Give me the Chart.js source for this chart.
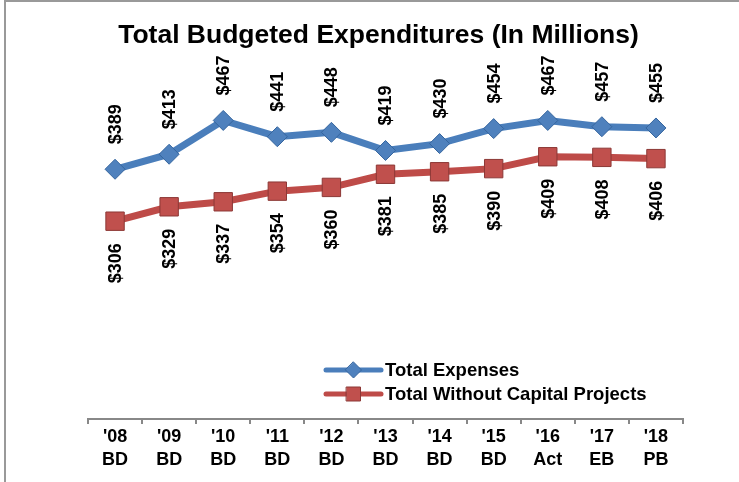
<!DOCTYPE html>
<html>
<head>
<meta charset="utf-8">
<script src="https://cdn.jsdelivr.net/npm/chart.js@4.4.1/dist/chart.umd.min.js"></script>
<style>
  body { margin: 0; background: #fff; }
  #wrap { position: relative; width: 739px; height: 482px; }
  .frameTop { position: absolute; left: 4px; top: 0; width: 735px; height: 2px; background: #999; }
  .frameLeft { position: absolute; left: 4px; top: 0; width: 2px; height: 482px; background: #999; }
</style>
</head>
<body>
<div id="wrap">
  <canvas id="myChart"></canvas>
  <div class="frameTop"></div>
  <div class="frameLeft"></div>
</div>
<script>
// chart values
var years = ["'08", "'09", "'10", "'11", "'12", "'13", "'14", "'15", "'16", "'17", "'18"];
var budgetTypes = ["BD", "BD", "BD", "BD", "BD", "BD", "BD", "BD", "Act", "EB", "PB"];
var totalExpenses = [389, 413, 467, 441, 448, 419, 430, 454, 467, 457, 455];
var totalWithoutCapital = [306, 329, 337, 354, 360, 381, 385, 390, 409, 408, 406];

var FONT = "'Liberation Sans', Arial, sans-serif";

var labels = years.map(function (y, i) { return [y, budgetTypes[i]]; });

// values printed sideways above (blue) and below (red) each point
var valueLabels = {
  id: 'valueLabels',
  afterDatasetsDraw: function (chart) {
    var ctx = chart.ctx;
    ctx.save();
    ctx.font = 'bold 18px ' + FONT;
    ctx.fillStyle = '#000';
    ctx.textBaseline = 'middle';
    chart.data.datasets.forEach(function (ds, di) {
      var meta = chart.getDatasetMeta(di);
      meta.data.forEach(function (pt, i) {
        ctx.save();
        if (di === 0) {
          ctx.translate(pt.x + 1, pt.y - 25);
          ctx.rotate(-Math.PI / 2);
          ctx.textAlign = 'left';
        } else {
          ctx.translate(pt.x + 1, pt.y + 22);
          ctx.rotate(-Math.PI / 2);
          ctx.textAlign = 'right';
        }
        ctx.fillText('$' + ds.data[i], 0, 0);
        ctx.restore();
      });
    });
    ctx.restore();
  }
};

// legend sitting inside the plot, like the original
var innerLegend = {
  id: 'innerLegend',
  afterDraw: function (chart) {
    var ctx = chart.ctx;
    var x0 = 326, x1 = 381, tx = 385;
    var rows = [370, 394];
    ctx.save();
    chart.data.datasets.forEach(function (ds, di) {
      var y = rows[di];
      ctx.strokeStyle = ds.borderColor;
      ctx.lineWidth = 5;
      ctx.lineCap = 'round';
      ctx.beginPath();
      ctx.moveTo(x0, y);
      ctx.lineTo(x1, y);
      ctx.stroke();
      var mx = (x0 + x1) / 2;
      ctx.fillStyle = ds.pointBackgroundColor;
      ctx.strokeStyle = ds.pointBorderColor;
      ctx.lineWidth = 1;
      ctx.beginPath();
      if (ds.pointStyle === 'rectRot') {
        ctx.moveTo(mx, y - 8); ctx.lineTo(mx + 8, y); ctx.lineTo(mx, y + 8); ctx.lineTo(mx - 8, y);
        ctx.closePath();
      } else {
        ctx.rect(mx - 7, y - 7, 14, 14);
      }
      ctx.fill();
      ctx.stroke();
      ctx.fillStyle = '#000';
      ctx.font = 'bold 18.5px ' + FONT;
      ctx.textAlign = 'left';
      ctx.textBaseline = 'middle';
      ctx.fillText(ds.label, tx, y + 1);
    });
    ctx.restore();
  }
};

var ctx = document.getElementById('myChart').getContext('2d');
var myChart = new Chart(ctx, {
  type: 'line',
  data: {
    labels: labels,
    datasets: [{
      label: 'Total Expenses',
      data: totalExpenses,
      borderColor: '#4A7EBB',
      borderWidth: 7,
      pointStyle: 'rectRot',
      pointRadius: 10,
      pointBackgroundColor: '#4F81BD',
      pointBorderColor: '#35659E',
      pointBorderWidth: 1,
      tension: 0
    }, {
      label: 'Total Without Capital Projects',
      data: totalWithoutCapital,
      borderColor: '#BE4B48',
      borderWidth: 7,
      pointStyle: 'rect',
      pointRadius: 13,
      pointBackgroundColor: '#C0504D',
      pointBorderColor: '#8C3836',
      pointBorderWidth: 1,
      tension: 0
    }]
  },
  options: {
    responsive: true,
    maintainAspectRatio: false,
    animation: false,
    layout: { padding: { left: 74, right: 56, top: 0, bottom: 8 } },
    plugins: {
      legend: { display: false },
      tooltip: { enabled: false },
      title: {
        display: true,
        text: 'Total Budgeted Expenditures (In Millions)',
        color: '#000',
        font: { family: FONT, size: 26.5, weight: 'bold' },
        padding: { top: 20, bottom: 48 }
      }
    },
    scales: {
      x: {
        offset: true,
        grid: {
          display: true,
          offset: true,
          drawOnChartArea: false,
          drawTicks: true,
          tickLength: 5,
          color: '#888',
          lineWidth: 2
        },
        border: { display: true, color: '#888', width: 2 },
        ticks: {
          color: '#000',
          padding: 2,
          maxRotation: 0,
          autoSkip: false,
          font: { family: FONT, size: 18, weight: 'bold', lineHeight: 1.28 }
        }
      },
      y: {
        min: -10,
        max: 500,
        grid: { display: false },
        border: { display: false },
        ticks: { display: false },
        afterFit: function (scale) { scale.width = 14; }
      }
    }
  },
  plugins: [valueLabels, innerLegend]
});
</script>
</body>
</html>
